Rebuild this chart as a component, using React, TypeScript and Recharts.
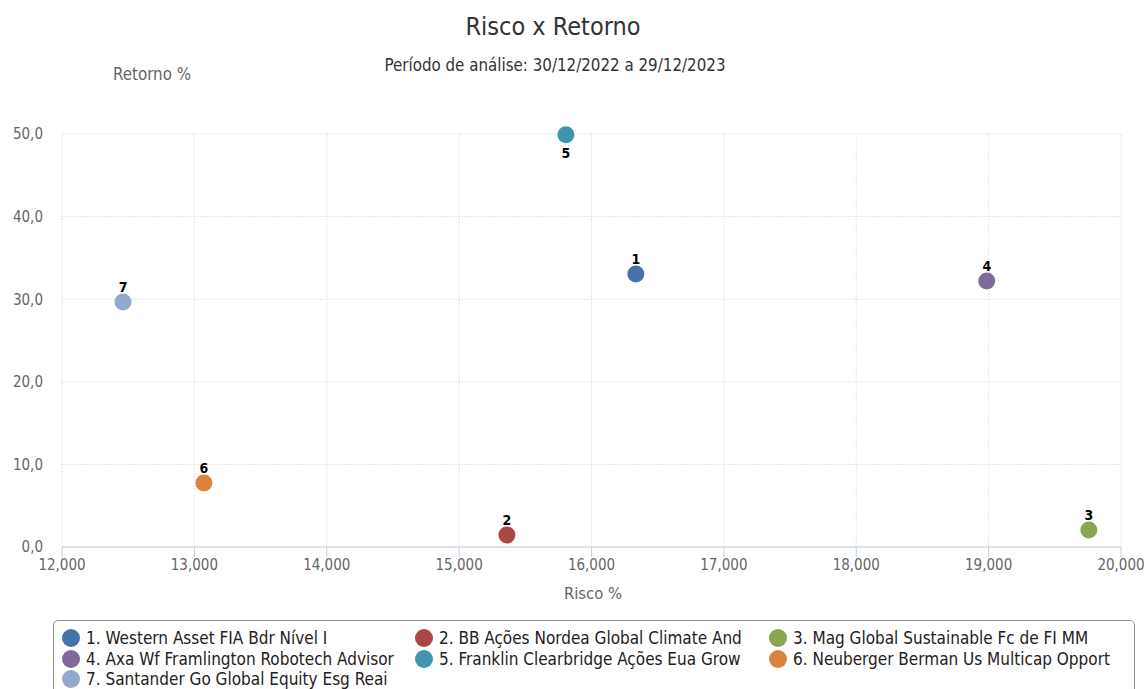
import React from 'react';
import { ScatterChart, Scatter, XAxis, YAxis, CartesianGrid } from 'recharts';

const fundNames = [
  '1. Western Asset FIA Bdr Nível I',
  '2. BB Ações Nordea Global Climate And',
  '3. Mag Global Sustainable Fc de FI MM',
  '4. Axa Wf Framlington Robotech Advisor',
  '5. Franklin Clearbridge Ações Eua Grow',
  '6. Neuberger Berman Us Multicap Opport',
  '7. Santander Go Global Equity Esg Reai',
];
const pointLabels = ['1', '2', '3', '4', '5', '6', '7'];
const riskValues = [16.335, 15.361, 19.757, 18.986, 15.807, 13.072, 12.461];
const returnValues = [33.05, 1.45, 2.06, 32.2, 49.9, 7.75, 29.66];
const labelBelow = [false, false, false, false, true, false, false];
const colors = ['#4572A7', '#AA4643', '#89A54E', '#80699B', '#3D96AE', '#DB843D', '#92A8CD'];
const xTicks = [12, 13, 14, 15, 16, 17, 18, 19, 20];
const yTicks = [0, 10, 20, 30, 40, 50];

const FONT = '"DejaVu Sans Condensed", "DejaVu Sans", sans-serif';

const series = fundNames.map((name, i) => ({
  name,
  color: colors[i],
  data: [{ x: riskValues[i], y: returnValues[i], label: pointLabels[i], below: labelBelow[i] }],
}));

const makeShape = (color: string) => (props: any) => {
  const { cx, cy, payload } = props;
  return (
    <g>
      <circle cx={cx} cy={cy} r={8.5} fill={color} />
      <text
        x={cx}
        y={payload.below ? cy + 23 : cy - 10}
        textAnchor="middle"
        fontFamily={FONT}
        fontSize={14}
        fontWeight="bold"
        fill="#000"
      >
        {payload.label}
      </text>
    </g>
  );
};

export default function App() {
  return (
    <div style={{ position: 'absolute', left: 0, top: 0, width: 1148, height: 689, background: '#fff', overflow: 'hidden', fontFamily: FONT }}>
      <div style={{ position: 'absolute', left: 0, width: 1106, top: 11, textAlign: 'center', fontSize: 25, color: '#333', lineHeight: '32px' }}>
        Risco x Retorno
      </div>
      <div style={{ position: 'absolute', left: 0, width: 1110, top: 54, textAlign: 'center', fontSize: 16.8, color: '#333', lineHeight: '22px' }}>
        Período de análise: 30/12/2022 a 29/12/2023
      </div>
      <div style={{ position: 'absolute', left: 113, top: 63, fontSize: 16.8, color: '#666', lineHeight: '22px' }}>
        Retorno %
      </div>
      <div style={{ position: 'absolute', left: 0, width: 1186, top: 583, textAlign: 'center', fontSize: 16.5, color: '#666', lineHeight: '22px' }}>
        Risco %
      </div>
      <div style={{ position: 'absolute', left: 0, top: 0 }}>
        <ScatterChart width={1148} height={689} margin={{ top: 134, right: 27, bottom: 112, left: 2 }}>
          <CartesianGrid stroke="#e6e6e6" strokeDasharray="2 1" vertical horizontal />
          <XAxis
            type="number"
            dataKey="x"
            domain={[12, 20]}
            ticks={xTicks}
            allowDataOverflow
            height={30}
            stroke="#C0D0E0"
            tickLine={{ stroke: '#C0D0E0' }}
            tickSize={10}
            tickMargin={2}
            tick={{ fill: '#666', fontSize: 15, fontFamily: FONT }}
            tickFormatter={(v: number) => v.toFixed(3).replace('.', ',')}
          />
          <YAxis
            type="number"
            dataKey="y"
            domain={[0, 50]}
            ticks={yTicks}
            width={60}
            axisLine={false}
            tickLine={false}
            tickMargin={13}
            tick={{ fill: '#666', fontSize: 15, fontFamily: FONT }}
            tickFormatter={(v: number) => v.toFixed(1).replace('.', ',')}
          />
          {series.map((s) => (
            <Scatter
              key={s.name}
              name={s.name}
              data={s.data}
              fill={s.color}
              shape={makeShape(s.color)}
              isAnimationActive={false}
            />
          ))}
        </ScatterChart>
      </div>
      <div
        style={{
          position: 'absolute',
          left: 53,
          top: 620,
          width: 1082,
          height: 90,
          border: '1px solid #909090',
          borderRadius: 5,
          boxSizing: 'border-box',
        }}
      />
      {series.map((s, i) => {
        const col = i % 3;
        const row = Math.floor(i / 3);
        const colLeft = [62, 415, 769][col];
        return (
          <div
            key={s.name}
            style={{
              position: 'absolute',
              left: colLeft,
              top: 627 + row * 20.5,
              height: 22,
              display: 'flex',
              alignItems: 'center',
              fontSize: 17,
              color: '#222',
              whiteSpace: 'nowrap',
            }}
          >
            <span style={{ display: 'inline-block', width: 18, height: 18, borderRadius: '50%', background: s.color, marginRight: 6 }} />
            {s.name}
          </div>
        );
      })}
    </div>
  );
}
